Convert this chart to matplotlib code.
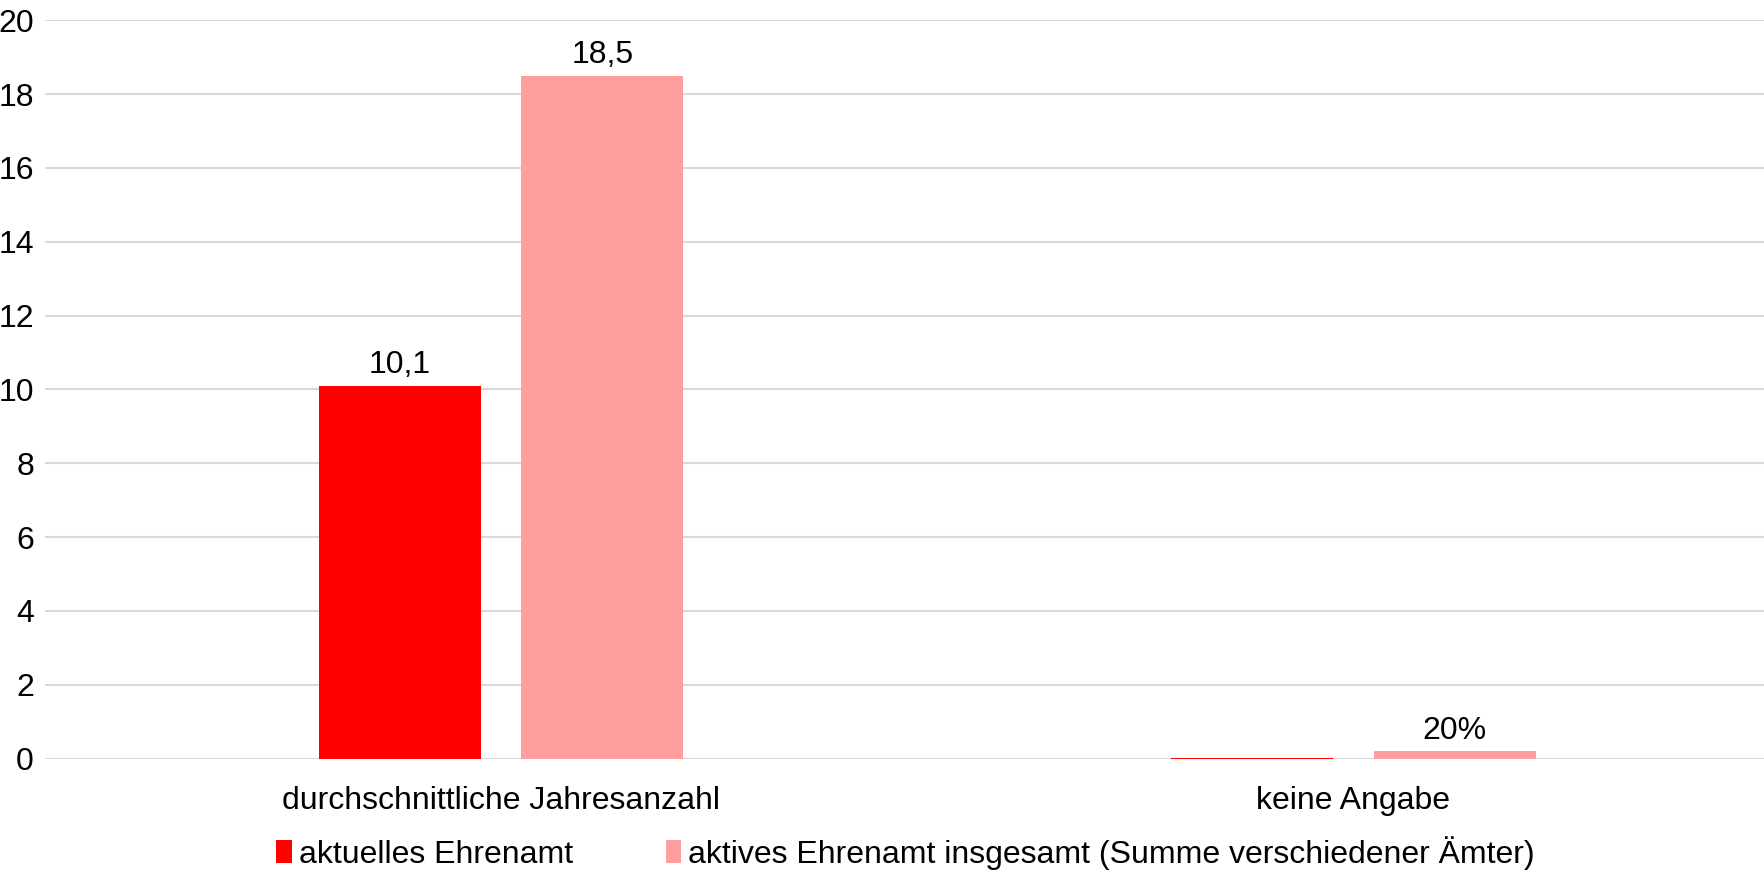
import matplotlib.pyplot as plt
import numpy as np

plt.rcParams['font.family'] = ['Liberation Sans', 'DejaVu Sans']

# Daten
kategorien = ['durchschnittliche Jahresanzahl', 'keine Angabe']
aktuell = [10.1, 0.03]
insgesamt = [18.5, 0.2]
labels_aktuell = ['10,1', '']
labels_insgesamt = ['18,5', '20%']
serien = ['aktuelles Ehrenamt', 'aktives Ehrenamt insgesamt (Summe verschiedener Ämter)']

fig = plt.figure(figsize=(17.65, 8.73), dpi=100)
ax = fig.add_axes([0.0255, 0.131, 0.9745, 0.8458])

x = np.arange(len(kategorien))
breite = 0.19
b1 = ax.bar(x - 0.119, aktuell, breite, color='#ff0000', label=serien[0], zorder=3)
b2 = ax.bar(x + 0.119, insgesamt, breite, color='#ff9e9e', label=serien[1], zorder=3)

ax.bar_label(b1, labels=labels_aktuell, padding=4, fontsize=23)
ax.bar_label(b2, labels=labels_insgesamt, padding=4, fontsize=23)

ax.set_ylim(0, 20)
ax.set_yticks(range(0, 21, 2))
ax.set_xlim(-0.535, 1.483)
ax.set_xticks(x)
ax.set_xticklabels(kategorien)
ax.tick_params(axis='both', length=0, labelsize=23)
ax.tick_params(axis='y', pad=8)
ax.tick_params(axis='x', pad=20)

ax.grid(axis='y', color='#d9d9d9', linewidth=1.5, zorder=0)
for s in ax.spines.values():
    s.set_visible(False)

fig.legend(loc='lower center', bbox_to_anchor=(0.513, -0.029), ncol=2, frameon=False,
           fontsize=23, handlelength=0.5, handleheight=0.7, handletextpad=0.2,
           columnspacing=2.9)

fig.savefig('out.png', dpi=100)
